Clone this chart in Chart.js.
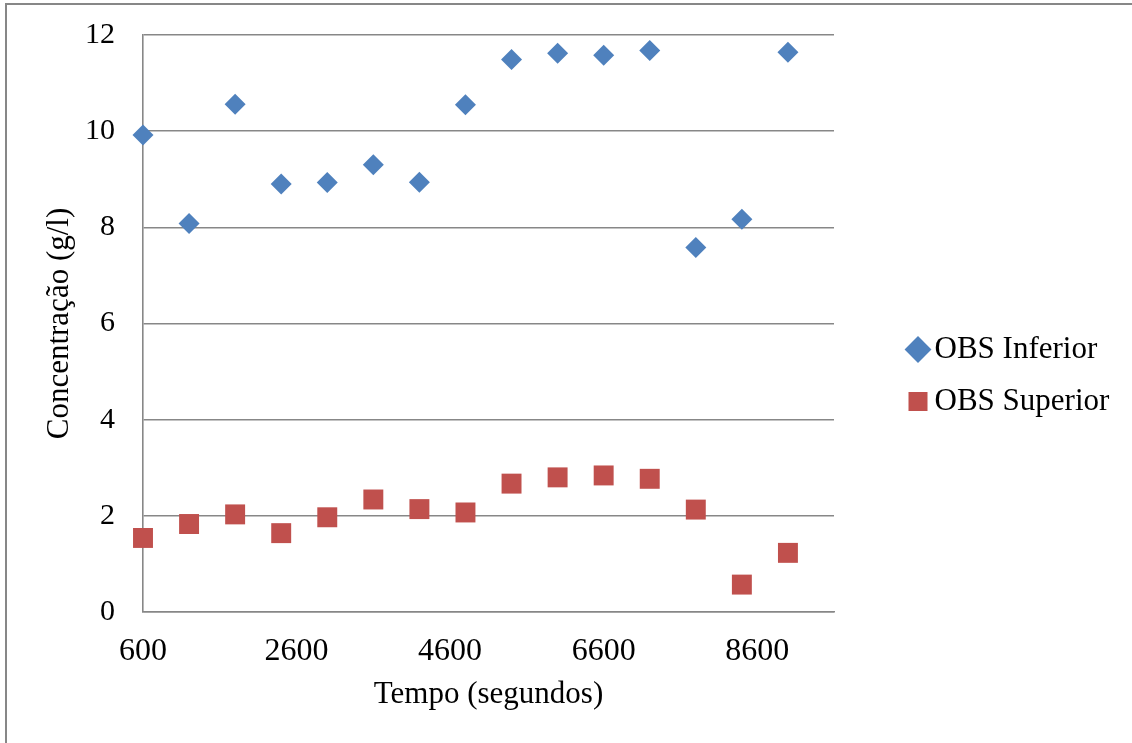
<!DOCTYPE html>
<html>
<head>
<meta charset="utf-8">
<script src="https://cdn.jsdelivr.net/npm/chart.js@4/dist/chart.umd.min.js"></script>
<style>
html, body { margin: 0; padding: 0; background: #fff; }
#wrap { position: relative; width: 1132px; height: 743px; }
#wrap canvas { position: absolute; left: 0; top: 0; }
/* grey frame of the original sheet (top and left edges only) */
#frame { position: absolute; left: 5px; top: 3px; right: 0; bottom: 0;
  border-top: 2px solid #878787; border-left: 2px solid #878787; pointer-events: none; }
</style>
</head>
<body>
<div id="wrap">
  <canvas id="chart" width="1132" height="743"></canvas>
  <div id="frame"></div>
</div>
<script>
// time in seconds
const tempos = [600, 1200, 1800, 2400, 3000, 3600, 4200, 4800, 5400, 6000, 6600, 7200, 7800, 8400, 9000];
// concentration (g/l)
const obsInferior = [9.92, 8.08, 10.56, 8.90, 8.93, 9.30, 8.94, 10.55, 11.49, 11.62, 11.58, 11.68, 7.58, 8.17, 11.64];
const obsSuperior = [1.54, 1.83, 2.03, 1.64, 1.97, 2.34, 2.14, 2.07, 2.67, 2.80, 2.84, 2.77, 2.13, 0.57, 1.23];
const xTicks = [600, 2600, 4600, 6600, 8600];

const serif = 'Liberation Serif, Times New Roman, serif';
const gridColor = '#878787';

function toPoints(ys) {
    return tempos.map((t, i) => ({ x: t, y: ys[i] }));
}

// put the legend where Excel had it, to the right of the plot
const legendSpot = {
    id: 'legendSpot',
    afterLayout(chart) {
        const lg = chart.legend;
        lg.left = 896;
        lg.right = lg.left + lg.width;
        lg.top = 313;
        lg.bottom = lg.top + lg.height;
    }
};

const ctx = document.getElementById('chart').getContext('2d');
new Chart(ctx, {
    type: 'scatter',
    data: {
        datasets: [{
            label: 'OBS Inferior',
            data: toPoints(obsInferior),
            pointStyle: 'rectRot',
            pointRadius: 10.5,
            pointBorderWidth: 0,
            backgroundColor: '#4F81BD',
            borderColor: '#4F81BD',
            clip: false
        }, {
            label: 'OBS Superior',
            data: toPoints(obsSuperior),
            pointStyle: 'rect',
            pointRadius: 14.1,
            pointBorderWidth: 0,
            backgroundColor: '#C0504D',
            borderColor: '#C0504D',
            clip: false
        }]
    },
    options: {
        responsive: false,
        animation: false,
        layout: { padding: { left: 0, right: 298, top: 35, bottom: 0 } },
        scales: {
            x: {
                type: 'linear',
                min: 600,
                max: 9600,
                afterBuildTicks: (scale) => { scale.ticks = xTicks.map(v => ({ value: v })); },
                afterFit: (scale) => { scale.height = 131; scale.paddingLeft = 0; scale.paddingRight = 0; },
                grid: { display: false, drawTicks: false },
                border: { display: true, color: gridColor, width: 1.6 },
                ticks: {
                    autoSkip: false, maxRotation: 0, padding: 20,
                    callback: (v) => String(v),
                    color: '#000', font: { family: serif, size: 32 }
                },
                title: {
                    display: true, text: 'Tempo (segundos)', color: '#000',
                    font: { family: serif, size: 31 }, padding: { top: 0, bottom: 30 }
                }
            },
            y: {
                min: 0,
                max: 12,
                afterFit: (scale) => { scale.width = 143; scale.paddingTop = 0; scale.paddingBottom = 0; },
                grid: { color: gridColor, lineWidth: 1.6, drawTicks: false },
                border: { display: true, color: gridColor, width: 1.6 },
                ticks: {
                    stepSize: 2, padding: 28,
                    callback: (v) => String(v),
                    color: '#000', font: { family: serif, size: 30 }
                },
                title: {
                    display: true, text: 'Concentração (g/l)', color: '#000',
                    font: { family: serif, size: 31 }, padding: { top: 41, bottom: 0 }
                }
            }
        },
        plugins: {
            legend: {
                position: 'chartArea',
                align: 'start',
                labels: {
                    usePointStyle: true,
                    boxWidth: 2,
                    boxHeight: 19,
                    padding: 21,
                    color: '#000',
                    font: { family: serif, size: 31, lineHeight: 1 }
                }
            },
            tooltip: { enabled: false }
        }
    },
    plugins: [legendSpot]
});
</script>
</body>
</html>
